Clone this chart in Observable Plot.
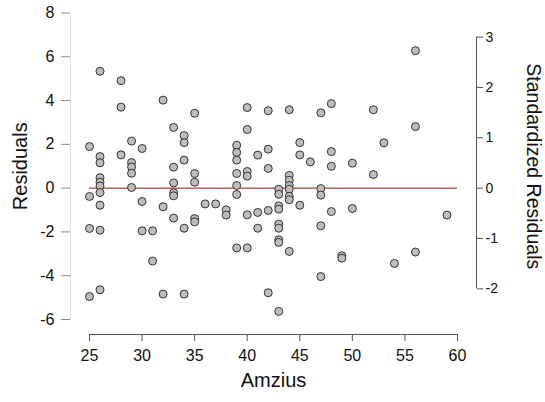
<!DOCTYPE html>
<html>
<head>
<meta charset="utf-8">
<script src="https://cdn.jsdelivr.net/npm/d3@7"></script>
<script src="https://cdn.jsdelivr.net/npm/@observablehq/plot@0.6"></script>
<style>
  html, body { margin: 0; padding: 0; background: #fff; }
  #chart { width: 545px; height: 402px; }
</style>
</head>
<body>
<div id="chart"></div>
<script>
// Age (x) and residual (y) of each observation
const amzius = [
  25, 25, 25, 25,
  26, 26, 26, 26, 26, 26, 26, 26, 26, 26,
  28, 28, 28,
  29, 29, 29, 29, 29,
  30, 30, 30,
  31, 31,
  32, 32, 32,
  33, 33, 33, 33, 33, 33,
  34, 34, 34, 34, 34,
  35, 35, 35, 35, 35,
  36, 37, 38, 38,
  39, 39, 39, 39, 39, 39, 39,
  40, 40, 40, 40, 40, 40,
  41, 41, 41,
  42, 42, 42, 42, 42,
  43, 43, 43, 43, 43, 43, 43, 43, 43,
  44, 44, 44, 44, 44, 44, 44, 44,
  45, 45, 45, 46,
  47, 47, 47, 47, 47,
  48, 48, 48, 48,
  49, 49, 50, 50, 52, 52, 53, 54, 56, 56, 56, 59
];
const residuals = [
  1.90, -0.38, -1.84, -4.95,
  5.34, 1.44, 1.16, 0.48, 0.27, 0.10, -0.20, -0.78, -1.92, -4.64,
  4.91, 3.70, 1.52,
  2.15, 1.17, 0.97, 0.68, 0.03,
  1.81, -0.61, -1.95,
  -1.95, -3.33,
  4.02, -0.85, -4.84,
  2.77, 0.96, 0.24, -0.21, -0.35, -1.37,
  2.40, 2.08, 1.28, -1.83, -4.84,
  3.42, 0.67, 0.27, -1.39, -1.54,
  -0.72, -0.72, -0.99, -1.23,
  1.96, 1.63, 1.28, 0.67, 0.12, -0.29, -2.73,
  3.68, 2.68, 0.76, 0.55, -1.22, -2.73,
  1.51, -1.11, -1.83,
  3.54, 1.78, 0.90, -1.02, -4.78,
  -0.05, -0.28, -0.81, -0.96, -1.64, -1.83, -2.36, -2.48, -5.63,
  3.58, 0.58, 0.36, 0.12, -0.05, -0.37, -0.53, -2.89,
  2.08, 1.52, -0.78, 1.20,
  3.44, -0.02, -0.32, -1.72, -4.04,
  3.86, 1.67, 1.00, -1.07,
  -3.09, -3.20, 1.14, -0.93, 3.58, 0.62, 2.07, -3.44, 6.28, 2.81, -2.92, -1.23
];

const xDomain = [25, 60];
const yDomain = [-6, 8];
const xTicks = [25, 30, 35, 40, 45, 50, 55, 60];
const yTicks = [-6, -4, -2, 0, 2, 4, 6, 8];
const stdTicks = [-2, -1, 0, 1, 2, 3];
const residualSD = 2.3; // one standardized unit in residual units

const data = amzius.map((a, i) => ({amzius: a, residual: residuals[i]}));

const font = "'Liberation Sans', Arial, Helvetica, sans-serif";

const chart = Plot.plot({
  width: 545,
  height: 402,
  marginLeft: 89,
  marginRight: 88,
  marginTop: 12.5,
  marginBottom: 83,
  style: {fontFamily: font, background: "#fff", color: "#111", overflow: "visible"},
  x: {domain: xDomain, axis: null},
  y: {domain: yDomain, axis: null},
  marks: [
    // left axis
    Plot.ruleX([xDomain[0]], {y1: yDomain[0], y2: yDomain[1], dx: -19, stroke: "#e2e2e2"}),
    Plot.axisY(yTicks, {anchor: "left", dx: -19, tickSize: 9, tickPadding: 7, stroke: "#8a8a8a", fill: "#111",
      fontSize: 16, tickFormat: d => `${d}`, label: null}),
    // bottom axis
    Plot.ruleY([yDomain[0]], {x1: xDomain[0], x2: xDomain[1], dy: 15, stroke: "#555"}),
    Plot.axisX(xTicks, {anchor: "bottom", dy: 15, tickSize: 7, tickPadding: 8, stroke: "#555", fill: "#111",
      fontSize: 16, tickFormat: d => `${d}`, label: null}),
    // right axis (standardized residuals)
    Plot.ruleX([xDomain[1]], {y1: stdTicks[0] * residualSD, y2: stdTicks[stdTicks.length - 1] * residualSD,
      dx: 19, stroke: "#555"}),
    Plot.axisY(stdTicks.map(s => s * residualSD), {anchor: "right", dx: 19, tickSize: 6, tickPadding: 3,
      stroke: "#555", fill: "#111", fontSize: 14, tickFormat: d => `${Math.round(d / residualSD)}`, label: null}),
    // zero line
    Plot.ruleY([0], {x1: xDomain[0], x2: xDomain[1], stroke: "#a8453f", strokeWidth: 1.1}),
    // points
    Plot.dot(data, {x: "amzius", y: "residual", r: 4, fill: "#bdbdbd", stroke: "#333", strokeWidth: 1}),
    // axis titles
    Plot.text(["Residuals"], {frameAnchor: "left", textAnchor: "middle", rotate: -90, dx: -69,
      fontSize: 20, fill: "#111"}),
    Plot.text(["Amzius"], {frameAnchor: "bottom", textAnchor: "middle", dy: 67, fontSize: 20, fill: "#111"}),
    Plot.text(["Standardized Residuals"], {frameAnchor: "right", textAnchor: "middle", rotate: 90, dx: 76,
      fontSize: 19.5, fill: "#111"})
  ]
});
document.getElementById("chart").append(chart);
</script>
</body>
</html>
